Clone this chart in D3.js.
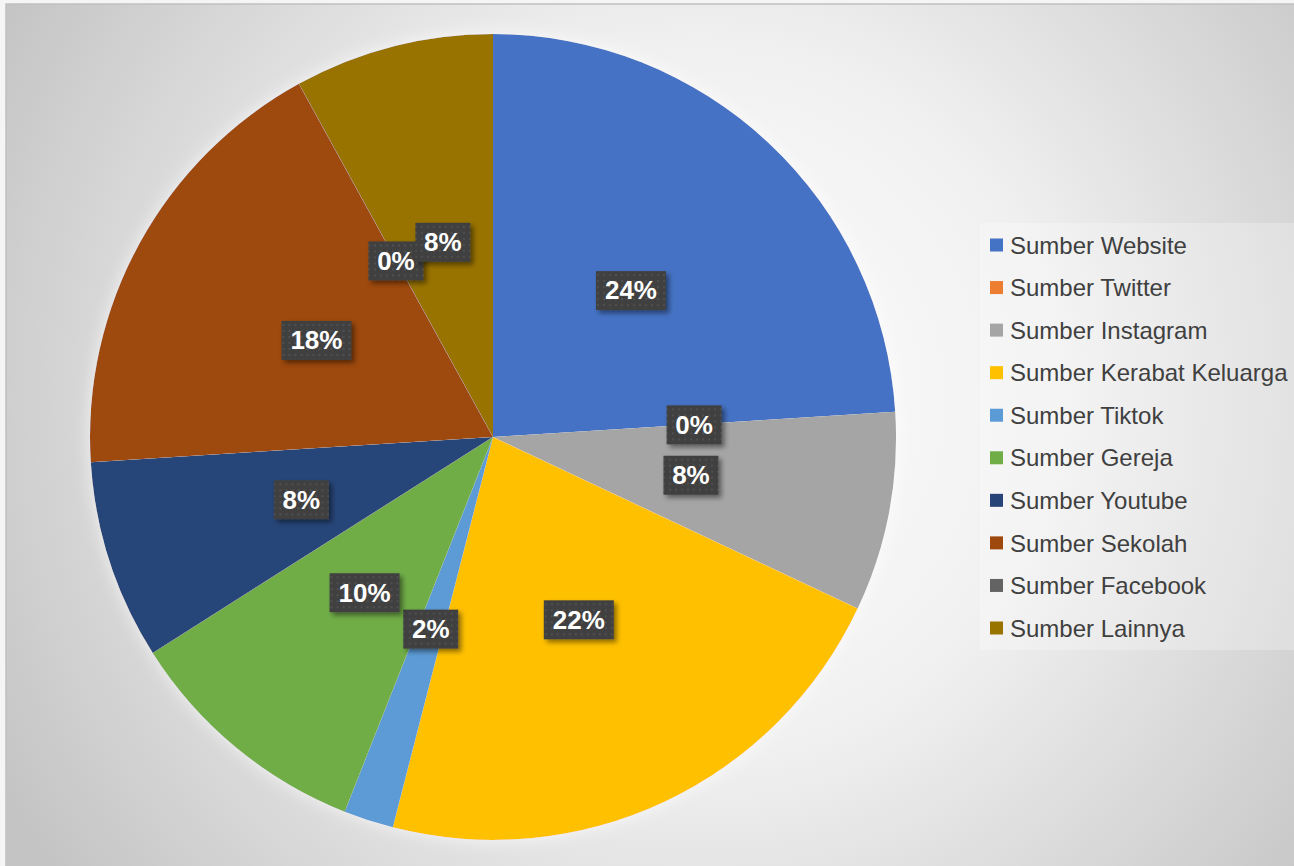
<!DOCTYPE html>
<html>
  <head>
    <style>
      body {
        margin: 0;
        background: #f5f5f5;
      }
      .legend text {
        font-family: "Liberation Sans", Arial, sans-serif;
        font-size: 24px;
        fill: #404040;
      }
      .label text {
        font-family: "Liberation Sans", Arial, sans-serif;
        font-size: 26px;
        font-weight: bold;
        fill: #fff;
      }
    </style>
  </head>
  <body>
    <script src="https://cdn.jsdelivr.net/npm/d3@7"></script>
    <script>
      var width = 1294, height = 866;

      var categories = ["Sumber Website", "Sumber Twitter", "Sumber Instagram", "Sumber Kerabat Keluarga",
        "Sumber Tiktok", "Sumber Gereja", "Sumber Youtube", "Sumber Sekolah", "Sumber Facebook", "Sumber Lainnya"];
      var values = [24, 0, 8, 22, 2, 10, 8, 18, 0, 8];
      var colors = ["#4472c4", "#ed7d31", "#a5a5a5", "#ffc000", "#5b9bd5",
        "#70ad47", "#264478", "#9e480e", "#636363", "#997300"];

      var data = categories.map(function(c, i){ return { name: c, value: values[i] }; });
      var total = d3.sum(values);

      var svg = d3.select("body").append("svg")
          .attr("width", width)
          .attr("height", height)
          .style("display", "block");

      var defs = svg.append("defs");

      var bg = defs.append("radialGradient")
          .attr("id", "bg")
          .attr("gradientUnits", "userSpaceOnUse")
          .attr("cx", 700).attr("cy", 400).attr("r", 800);
      bg.append("stop").attr("offset", "0%").attr("stop-color", "#ffffff");
      bg.append("stop").attr("offset", "45%").attr("stop-color", "#f0f0f0");
      bg.append("stop").attr("offset", "100%").attr("stop-color", "#c4c4c4");

      var dots = defs.append("pattern")
          .attr("id", "dots")
          .attr("patternUnits", "userSpaceOnUse")
          .attr("width", 6).attr("height", 6);
      dots.append("rect").attr("width", 6).attr("height", 6).attr("fill", "#404040");
      dots.append("rect").attr("x", 2).attr("y", 2).attr("width", 2).attr("height", 2).attr("fill", "#505050");

      var shadow = defs.append("filter").attr("id", "shadow")
          .attr("x", "-30%").attr("y", "-30%").attr("width", "160%").attr("height", "160%");
      shadow.append("feDropShadow")
          .attr("dx", 3).attr("dy", 3).attr("stdDeviation", 2.5)
          .attr("flood-color", "#000").attr("flood-opacity", 0.45);

      var glow = defs.append("filter").attr("id", "glow")
          .attr("x", "-20%").attr("y", "-20%").attr("width", "140%").attr("height", "140%");
      glow.append("feDropShadow")
          .attr("dx", 0).attr("dy", 0).attr("stdDeviation", 8)
          .attr("flood-color", "#fff").attr("flood-opacity", 0.7);

      // chart area
      svg.append("rect")
          .attr("x", 6).attr("y", 4)
          .attr("width", width).attr("height", height)
          .attr("fill", "url(#bg)")
          .attr("stroke", "#c0c0c0")
          .attr("stroke-width", 1.5);

      var cx = 493, cy = 437, radius = 403;

      var pie = d3.pie().sort(null).value(function(d){ return d.value; });
      var arc = d3.arc().innerRadius(0).outerRadius(radius);
      var labelArc = d3.arc().innerRadius(radius * 0.5).outerRadius(radius * 0.5);
      var arcs = pie(data);

      var g = svg.append("g").attr("transform", "translate(" + cx + "," + cy + ")");

      g.append("g")
          .attr("filter", "url(#glow)")
          .selectAll("path")
          .data(arcs)
        .enter().append("path")
          .attr("d", arc)
          .attr("fill", function(d, i){ return colors[i]; });

      var label = g.selectAll(".label")
          .data(arcs)
        .enter().append("g")
          .attr("class", "label")
          .attr("transform", function(d){
            var c = labelArc.centroid(d);
            return "translate(" + c[0] + "," + c[1] + ")";
          });

      label.each(function(d){
        var sel = d3.select(this);
        var txt = Math.round(d.data.value / total * 100) + "%";
        var w = txt.length === 3 ? 70 : 55;
        sel.append("rect")
            .attr("x", -w / 2).attr("y", -19)
            .attr("width", w).attr("height", 39)
            .attr("fill", "url(#dots)")
            .attr("filter", "url(#shadow)");
        sel.append("text")
            .attr("text-anchor", "middle")
            .attr("dy", "0.36em")
            .text(txt);
      });

      // legend
      var legend = svg.append("g").attr("class", "legend");
      legend.append("rect")
          .attr("x", 980).attr("y", 223)
          .attr("width", 314).attr("height", 427)
          .attr("fill", "#ffffff").attr("fill-opacity", 0.25);

      var y = d3.scalePoint().domain(categories).range([245, 628]);

      var item = legend.selectAll(".item")
          .data(categories)
        .enter().append("g")
          .attr("class", "item")
          .attr("transform", function(d){ return "translate(990," + y(d) + ")"; });

      item.append("rect")
          .attr("x", 0).attr("y", -6.5)
          .attr("width", 13).attr("height", 13)
          .attr("fill", function(d, i){ return colors[i]; });

      item.append("text")
          .attr("x", 20)
          .attr("dy", "0.36em")
          .text(function(d){ return d; });
    </script>
  </body>
</html>
